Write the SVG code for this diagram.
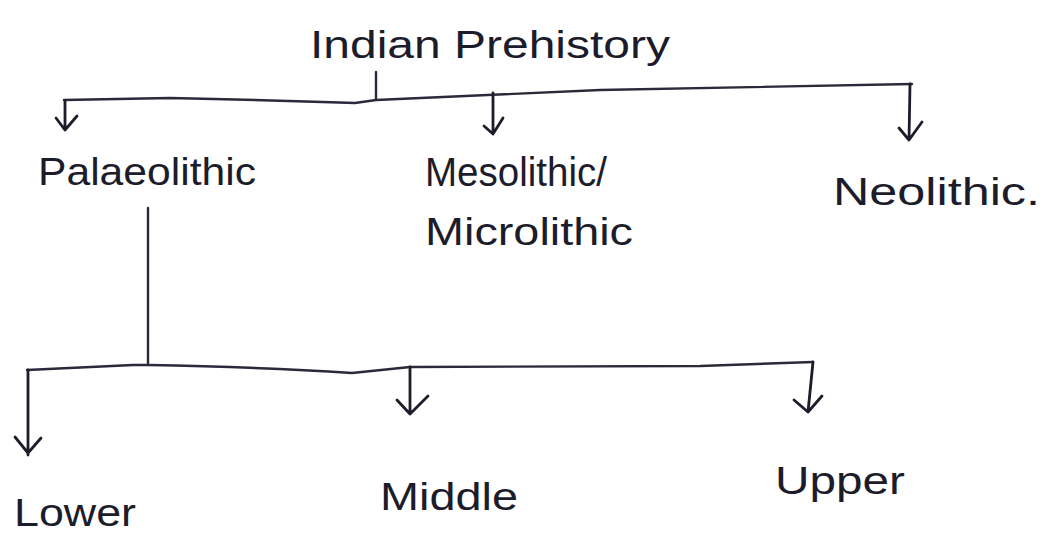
<svg xmlns="http://www.w3.org/2000/svg" width="1058" height="539" viewBox="0 0 1058 539">
<style>
.t{font-family:"Liberation Sans","DejaVu Sans",sans-serif;fill:#1c1c2a;font-size:38px}
.c{fill:none;stroke:#2a2a3a;stroke-width:2.4;stroke-linecap:round;stroke-linejoin:round}
.a{fill:none;stroke:#1c1c2a;stroke-width:2.8;stroke-linecap:round;stroke-linejoin:round}
</style>
<rect width="1058" height="539" fill="#ffffff"/>
<g id="node-indian-prehistory"><text class="t" x="310" y="58" textLength="360" lengthAdjust="spacingAndGlyphs">Indian Prehistory</text></g>
<g id="node-palaeolithic"><text class="t" x="38" y="185" textLength="218" lengthAdjust="spacingAndGlyphs">Palaeolithic</text></g>
<g id="node-mesolithic"><text class="t" x="425" y="186" style="font-size:40px" textLength="182" lengthAdjust="spacingAndGlyphs">Mesolithic/</text><text class="t" x="425" y="245" textLength="208" lengthAdjust="spacingAndGlyphs">Microlithic</text></g>
<g id="node-neolithic"><text class="t" x="833" y="205" textLength="207" lengthAdjust="spacingAndGlyphs">Neolithic.</text></g>
<g id="node-lower"><text class="t" x="14" y="526" textLength="122" lengthAdjust="spacingAndGlyphs">Lower</text></g>
<g id="node-middle"><text class="t" x="380" y="510" textLength="138" lengthAdjust="spacingAndGlyphs">Middle</text></g>
<g id="node-upper"><text class="t" x="775" y="494" textLength="130" lengthAdjust="spacingAndGlyphs">Upper</text></g>
<g id="connectors">
<path class="c" d="M376 72 V100"/>
<path class="c" d="M64 100 L170 98 Q270 100 355 103 L376 100 L600 90 L912 84"/>
<path class="a" d="M65 101 V130 M56 118 L65 130 L77 116"/>
<path class="a" d="M493 93 V134 M484 126 L493 134 L503 118"/>
<path class="a" d="M910 84 L909 140 M899 128 L909 140 L922 122"/>
<path class="c" d="M148 208 V364"/>
<path class="c" d="M27 370 L133 365 L148 365 Q260 367 352 373 L410 367 L700 366 L813 362"/>
<path class="a" d="M28 370 V455 M15 437 L28 453 L41 438"/>
<path class="a" d="M410 367 V414 M397 400 L410 414 L428 396"/>
<path class="a" d="M813 362 L808 412 M794 400 L808 412 L822 396"/>
</g>
</svg>
